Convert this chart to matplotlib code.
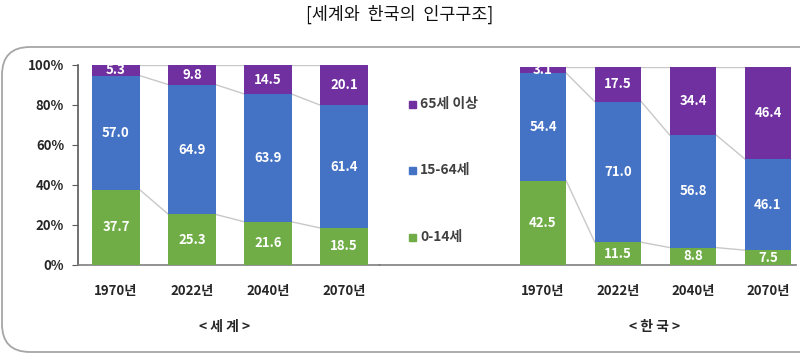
import matplotlib
matplotlib.use("Agg")
import matplotlib.pyplot as plt
from matplotlib.patches import FancyBboxPatch
import numpy as np

plt.rcParams['font.family'] = ['Noto Sans CJK KR', 'DejaVu Sans']

years = ["1970년", "2022년", "2040년", "2070년"]
series_names = ["0-14세", "15-64세", "65세 이상"]
colors = ["#70AD47", "#4472C4", "#7030A0"]

world_0_14 = [37.7, 25.3, 21.6, 18.5]
world_15_64 = [57.0, 64.9, 63.9, 61.4]
world_65 = [5.3, 9.8, 14.5, 20.1]

korea_0_14 = [42.5, 11.5, 8.8, 7.5]
korea_15_64 = [54.4, 71.0, 56.8, 46.1]
korea_65 = [3.1, 17.5, 34.4, 46.4]

yticks = [0, 20, 40, 60, 80, 100]
ytick_labels = ["0%", "20%", "40%", "60%", "80%", "100%"]

W, H = 800, 355
fig = plt.figure(figsize=(W / 100, H / 100), dpi=100)

# rounded frame
frame = FancyBboxPatch((2 / W, 1 - 352 / H), 1.05, (352 - 47) / H,
                       boxstyle="round,pad=0,rounding_size=0.035",
                       transform=fig.transFigure, fill=False,
                       edgecolor="#A6A6A6", lw=1.3, mutation_aspect=W / H,
                       clip_on=False)
fig.patches.append(frame)

fig.text(0.5, 1 - 14 / H, "[세계와  한국의  인구구조]", ha="center", va="center",
         fontsize=12.5, color="#111111")

def px_axes(x0, x1, y0, y1):
    return fig.add_axes([x0 / W, 1 - y1 / H, (x1 - x0) / W, (y1 - y0) / H])

bw = 0.62
line_c = "#C8C8C8"

def draw(ax, s0, s1, s2, xlim, show_y):
    x = np.arange(len(years))
    data = [s0, s1, s2]
    bottom = np.zeros(len(years))
    tops = []
    for vals, c in zip(data, colors):
        vals = np.array(vals)
        ax.bar(x, vals, bw, bottom=bottom, color=c, zorder=3, linewidth=0)
        for xi, b, v in zip(x, bottom, vals):
            ax.text(xi, b + v / 2, f"{v:.1f}", ha="center", va="center",
                    color="white", fontsize=9.5, fontweight="bold", zorder=5)
        bottom = bottom + vals
        tops.append(bottom.copy())
    for t in tops:
        for i in range(len(x) - 1):
            ax.plot([x[i] + bw / 2, x[i + 1] - bw / 2], [t[i], t[i + 1]],
                    color=line_c, lw=1.0, zorder=2)
    ax.set_xlim(*xlim)
    ax.set_ylim(0, 100)
    ax.set_xticks(x)
    ax.set_xticklabels(years, fontsize=9.5, fontweight="bold", color="#262626")
    ax.tick_params(axis="x", length=0, pad=14)
    for s in ["top", "right"]:
        ax.spines[s].set_visible(False)
    ax.spines["bottom"].set_color("#7F7F7F")
    ax.spines["bottom"].set_linewidth(1.2)
    if show_y:
        ax.spines["left"].set_color("#595959")
        ax.spines["left"].set_linewidth(1.2)
        ax.set_yticks(yticks)
        ax.set_yticklabels(ytick_labels, fontsize=9.5, fontweight="bold",
                           color="#262626")
        ax.tick_params(axis="y", length=4, color="#595959", pad=6)
    else:
        ax.spines["left"].set_visible(False)
        ax.set_yticks([])
    ax.patch.set_alpha(0)

ax1 = px_axes(78, 380, 65, 265)
draw(ax1, world_0_14, world_15_64, world_65,
     ((78 - 116) / 76, (380 - 116) / 76), True)

ax2 = px_axes(379, 796, 67, 265)
draw(ax2, korea_0_14, korea_15_64, korea_65,
     ((379 - 543) / 75, (796 - 543) / 75), False)

fig.text(225 / W, 1 - 327 / H, "< 세 계 >", ha="center", va="center",
         fontsize=10, fontweight="bold", color="#262626")
fig.text(655 / W, 1 - 327 / H, "< 한 국 >", ha="center", va="center",
         fontsize=10, fontweight="bold", color="#262626")

# legend
leg_y = [237, 170, 104]
for name, c, yy in zip(series_names, colors, leg_y):
    fig.patches.append(plt.Rectangle((409 / W, 1 - (yy + 4) / H), 7 / W, 7 / H,
                                     transform=fig.transFigure, color=c))
    fig.text(420 / W, 1 - yy / H, name, ha="left", va="center",
             fontsize=10, fontweight="bold", color="#404040")

fig.savefig("out.png", dpi=100)
